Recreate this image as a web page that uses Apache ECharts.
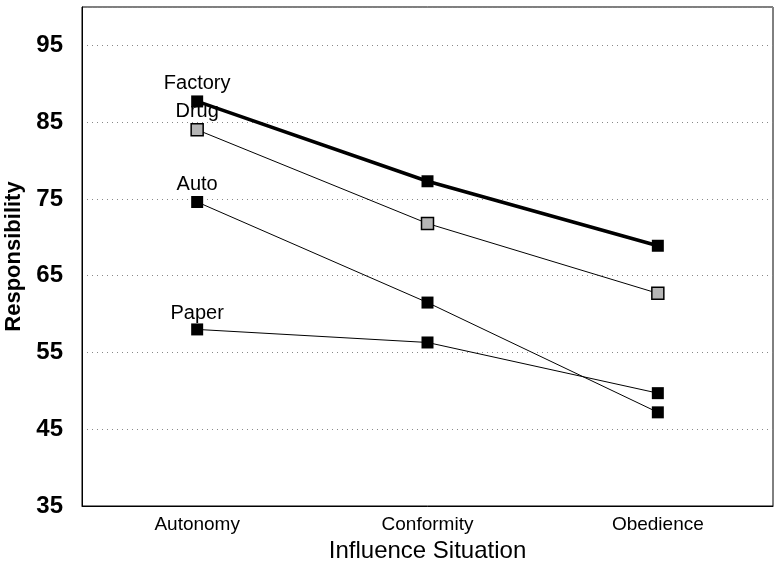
<!DOCTYPE html>
<html>
<head>
<meta charset="utf-8">
<script src="https://cdn.jsdelivr.net/npm/echarts@6/dist/echarts.min.js"></script>
<style>
  html, body { margin: 0; padding: 0; background: #fff; }
  #main { width: 778px; height: 565px; }
</style>
</head>
<body>
<div id="main"></div>
<script>
var categories = ["Autonomy", "Conformity", "Obedience"];
var yTicks = [35, 45, 55, 65, 75, 85, 95];

var factory = [87.7, 77.3, 68.9];
var drug = [84.0, 71.8, 62.7];
var auto = [74.6, 61.5, 47.2];
var paper = [58.0, 56.3, 49.7];

var chartDom = document.getElementById("main");
var myChart = echarts.init(chartDom);

// label only on the first point of each line
function withLabel(values, name, dist) {
  return values.map(function (v, i) {
    if (i === 0) {
      return {
        value: v,
        label: {
          show: true,
          formatter: name,
          position: "top",
          distance: dist,
          color: "#000",
          fontSize: 20,
          fontFamily: "Liberation Sans",
        },
      };
    }
    return v;
  });
}

function makeSeries(name, values, opts) {
  return {
    name: name,
    type: "line",
    data: withLabel(values, name, opts.dist),
    symbol: "rect",
    symbolSize: 12,
    lineStyle: { color: "#000", width: opts.width },
    itemStyle: {
      color: opts.fill,
      borderColor: "#000",
      borderWidth: opts.border,
    },
    z: opts.z,
    animation: false,
  };
}

var option = {
  backgroundColor: "#fff",
  grid: {
    left: 82,
    right: 5,
    top: 7,
    bottom: 59,
    outerBoundsMode: "none",
    containLabel: false,
    show: true,
    borderColor: "#000",
    borderWidth: 1,
  },
  xAxis: {
    type: "category",
    data: categories,
    boundaryGap: true,
    name: "Influence Situation",
    nameLocation: "middle",
    nameGap: 27,
    nameTextStyle: {
      fontSize: 24,
      fontFamily: "Liberation Sans",
      color: "#000",
    },
    axisLine: { lineStyle: { color: "#000" } },
    axisTick: { alignWithLabel: true, length: 6, lineStyle: { color: "#000" } },
    axisLabel: {
      fontSize: 19,
      fontFamily: "Liberation Sans",
      color: "#000",
      margin: 9,
    },
  },
  yAxis: {
    type: "value",
    min: 35,
    max: 100,
    interval: 10,
    name: "Responsibility",
    nameLocation: "middle",
    nameGap: 51,
    nameTextStyle: {
      fontSize: 22,
      fontWeight: "bold",
      fontFamily: "Liberation Sans",
      color: "#000",
    },
    axisLine: { show: true, lineStyle: { color: "#000" } },
    axisTick: { show: false },
    axisLabel: {
      fontSize: 24,
      fontWeight: "bold",
      fontFamily: "Liberation Sans",
      color: "#000",
      margin: 19,
      formatter: function (val) {
        return yTicks.indexOf(val) >= 0 ? String(val) : "";
      },
    },
    splitLine: {
      show: true,
      lineStyle: { color: "#888", type: [1, 4], width: 1 },
    },
  },
  series: [
    makeSeries("Paper", paper, { width: 1, fill: "#000", border: 0, dist: 0, z: 2 }),
    makeSeries("Auto", auto, { width: 1, fill: "#000", border: 0, dist: 2, z: 2 }),
    makeSeries("Drug", drug, { width: 1, fill: "#b5b5b5", border: 1.5, dist: 2, z: 3 }),
    makeSeries("Factory", factory, { width: 3.5, fill: "#000", border: 0, dist: 2, z: 4 }),
  ],
};

myChart.setOption(option);
</script>
</body>
</html>
